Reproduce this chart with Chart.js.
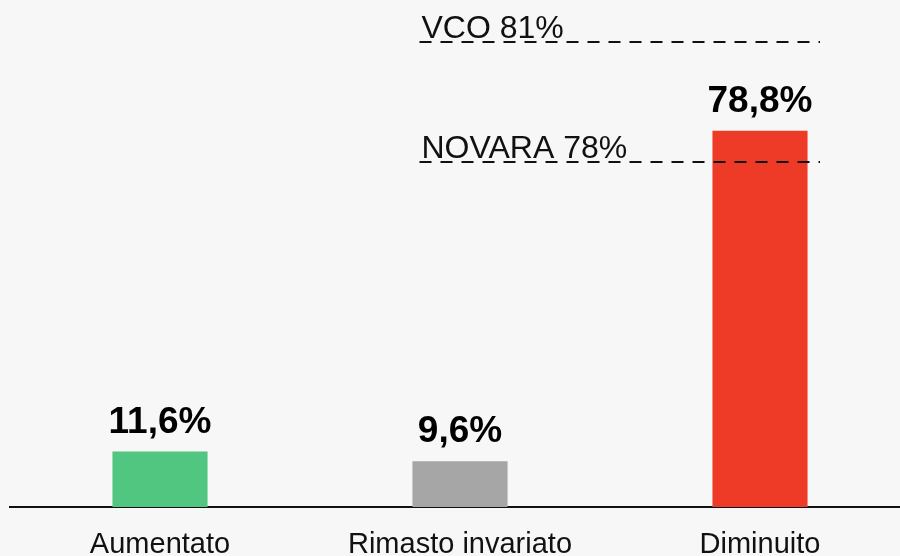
<!DOCTYPE html>
<html>
<head>
<meta charset="utf-8">
<script src="https://cdn.jsdelivr.net/npm/chart.js@4/dist/chart.umd.min.js"></script>
<style>
  html, body { margin: 0; padding: 0; background: #f7f7f7; overflow: hidden; }
  #wrap { width: 910px; height: 556px; }
</style>
</head>
<body>
<div id="wrap"><canvas id="myChart"></canvas></div>
<script>
const categories = ['Aumentato', 'Rimasto invariato', 'Diminuito'];
const values = [11.6, 9.6, 78.8];
const barColors = ['#50c680', '#a6a6a6', '#ee3b28'];
const refLabels = ['VCO 81%', 'NOVARA 78%'];
const refValues = [81, 78];

const fmt = v => v.toFixed(1).replace('.', ',') + '%';

// value labels above bars
const valueLabels = {
  id: 'valueLabels',
  afterDatasetsDraw(chart) {
    const ctx = chart.ctx;
    const meta = chart.getDatasetMeta(0);
    ctx.save();
    ctx.font = 'bold 37px "Liberation Sans", Arial, sans-serif';
    ctx.fillStyle = '#000';
    ctx.textAlign = 'center';
    ctx.textBaseline = 'alphabetic';
    meta.data.forEach((bar, i) => {
      ctx.fillText(fmt(values[i]), bar.x, bar.y - 19);
    });
    ctx.restore();
  }
};

// dashed reference lines (VCO / NOVARA), drawn on their own hidden axis
const refLines = {
  id: 'refLines',
  afterDatasetsDraw(chart) {
    const ctx = chart.ctx;
    const x = chart.scales.x;
    const yr = chart.scales.yRef;
    const step = x.getPixelForValue(1) - x.getPixelForValue(0);
    const x0 = x.getPixelForValue(1) - step * 0.135;
    const x1 = x.getPixelForValue(2) + step * 0.2;
    ctx.save();
    refValues.forEach((v, i) => {
      const y = yr.getPixelForValue(v);
      ctx.font = '32px "Liberation Sans", Arial, sans-serif';
      ctx.fillStyle = '#111';
      ctx.textAlign = 'left';
      ctx.textBaseline = 'alphabetic';
      ctx.fillText(refLabels[i], x0 + 2, y - 4);
      ctx.strokeStyle = '#111';
      ctx.lineWidth = 2;
      ctx.setLineDash([12, 9]);
      ctx.beginPath();
      ctx.moveTo(x0, y);
      ctx.lineTo(x1, y);
      ctx.stroke();
    });
    ctx.restore();
  }
};

var ctx = document.getElementById('myChart').getContext('2d');
var chart = new Chart(ctx, {
  type: 'bar',
  data: {
    labels: categories,
    datasets: [{
      data: values,
      backgroundColor: barColors,
      borderWidth: 0,
      categoryPercentage: 1,
      barPercentage: 0.317,
    }]
  },
  options: {
    responsive: true,
    maintainAspectRatio: false,
    animation: false,
    layout: { padding: { left: 10, right: 0, top: 0, bottom: 0 } },
    plugins: {
      legend: { display: false },
      tooltip: { enabled: false },
    },
    scales: {
      x: {
        afterFit: scale => { scale.height = 49; },
        grid: { display: false, drawTicks: false },
        border: { display: true, color: '#111', width: 2 },
        ticks: {
          color: '#111',
          padding: 21,
          font: { family: '"Liberation Sans", Arial, sans-serif', size: 29, lineHeight: 1.2 },
        },
      },
      y: {
        display: false,
        min: 0,
        max: 106.2,
      },
      yRef: {
        display: false,
        min: 69.37,
        max: 82.05,
      }
    }
  },
  plugins: [valueLabels, refLines]
});
</script>
</body>
</html>
